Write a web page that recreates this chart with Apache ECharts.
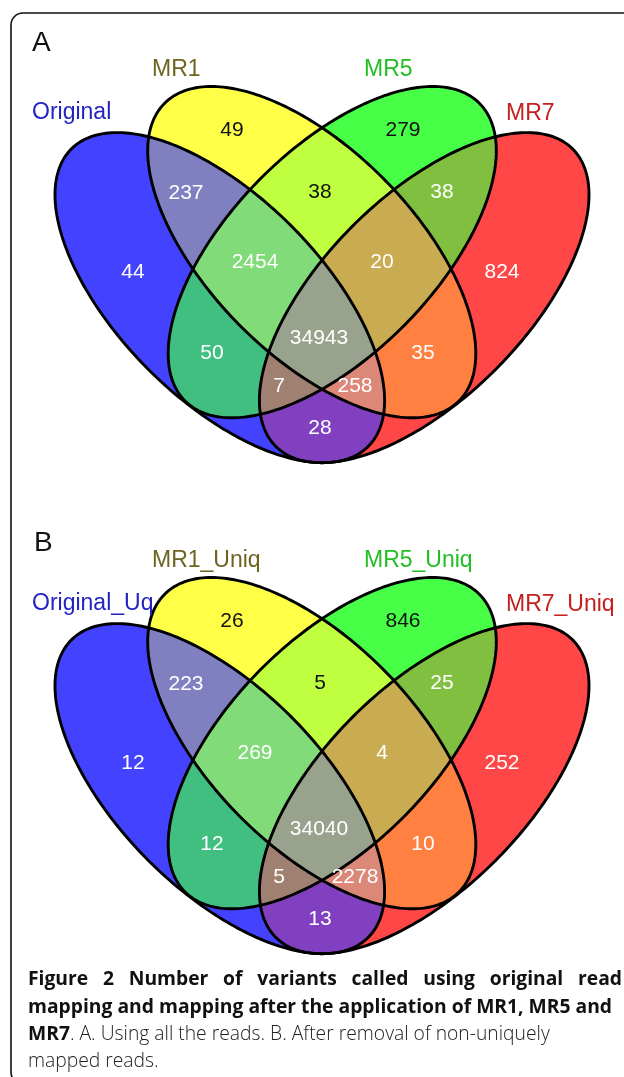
<!DOCTYPE html>
<html><head><meta charset="utf-8">
<script src="https://cdn.jsdelivr.net/npm/echarts@6/dist/echarts.min.js"></script>
<style>html,body{margin:0;padding:0;background:#fff}#c{width:624px;height:1077px}</style>
</head><body><div id="c"></div>
<script>
// ---------- DATA ----------
const setNamesA = ['Original', 'MR1', 'MR5', 'MR7'];
const setNamesB = ['Original_Uq', 'MR1_Uniq', 'MR5_Uniq', 'MR7_Uniq'];
// region keys (O = Original, M1 = MR1, M5 = MR5, M7 = MR7)
const regionKeys = ['O','M1','M5','M7','O_M1','M1_M5','M5_M7','O_M1_M5','M1_M5_M7','O_M5','M1_M7','O_M1_M5_M7','O_M5_M7','O_M1_M7','O_M7'];
const countsA = [44, 49, 279, 824, 237, 38, 38, 2454, 20, 50, 35, 34943, 7, 258, 28];
const countsB = [12, 26, 846, 252, 223, 5, 25, 269, 4, 12, 10, 34040, 5, 2278, 13];

// ---------- LAYOUT (template coordinates of one panel, mapped through the axes) ----------
const MIRROR_X = 644;
const ELL_OUTER = {cx:219.8, cy:297.65, a:210.12, b:101.26, ang:45.07};
const ELL_INNER = {cx:311.75, cy:252.13, a:209.31, b:102.67, ang:45.45};
const REGION_MASK = {O:1,M1:2,M5:4,M7:8,O_M1:3,M1_M5:6,M5_M7:12,O_M1_M5:7,M1_M5_M7:14,O_M5:5,M1_M7:10,O_M1_M5_M7:15,O_M5_M7:13,O_M1_M7:11,O_M7:9};
const REGION_ANCHOR = {O:[133,272],M1:[232,130],M5:[403,130],M7:[502,272],O_M1:[186,193],M1_M5:[320,192],M5_M7:[442,192],O_M1_M5:[255,262],M1_M5_M7:[382,262],O_M5:[212,353],M1_M7:[423,353],O_M1_M5_M7:[319,338],O_M5_M7:[279,386],O_M1_M7:[355,386],O_M7:[320,428]};
const REGION_COLOR = {O:'#4242FF',M1:'#FFFF47',M5:'#47FF47',M7:'#FF4747',O_M1:'#8080C0',M1_M5:'#BFFF40',M5_M7:'#80BF40',O_M1_M5:'#80DB78',M1_M5_M7:'#C9AB52',O_M5:'#40BF80',M1_M7:'#FF8040',O_M1_M5_M7:'#99A28C',O_M5_M7:'#A08070',O_M1_M7:'#DB8878',O_M7:'#8040C0'};
const DARK_TEXT = {M1:1,M5:1,M1_M5:1};
const CAT_ANCHOR = [[32,113],[152,70],[364,70],[506,114]];
const CAT_COLOR = ['#2323C4','#6E6420','#22BE22','#C42020'];
const PANEL_TOP = [0, 491];

const toRad=e=>({cx:e.cx,cy:e.cy,a:e.a,b:e.b,ang:e.ang*Math.PI/180});
const mirrorE=e=>({cx:MIRROR_X-e.cx, cy:e.cy, a:e.a, b:e.b, ang:Math.PI-e.ang});
const eO=toRad(ELL_OUTER), eI=toRad(ELL_INNER);
const ELLIPSES=[eO, eI, mirrorE(eI), mirrorE(eO)]; // Original, MR1, MR5, MR7
function ellipsePts(e,n){const out=[];const c=Math.cos(e.ang),s=Math.sin(e.ang);
  for(let i=0;i<n;i++){const t=2*Math.PI*i/n;const u=e.a*Math.cos(t),v=e.b*Math.sin(t);out.push([e.cx+u*c-v*s,e.cy+u*s+v*c]);}return out;}
const ELL_TPL=ELLIPSES.map(e=>ellipsePts(e,280));

function inter(P,Q,A,B){const x1=P[0],y1=P[1],x2=Q[0],y2=Q[1],x3=A[0],y3=A[1],x4=B[0],y4=B[1];
  const den=(x1-x2)*(y3-y4)-(y1-y2)*(x3-x4);const t=((x1-x3)*(y3-y4)-(y1-y3)*(x3-x4))/den;return [x1+t*(x2-x1),y1+t*(y2-y1)];}
function clip(subject,cp){let area=0;for(let i=0;i<cp.length;i++){const p=cp[i],q=cp[(i+1)%cp.length];area+=p[0]*q[1]-q[0]*p[1];}
  const sg=area>0?1:-1;let out=subject;
  for(let i=0;i<cp.length&&out.length;i++){const A=cp[i],B=cp[(i+1)%cp.length];
    const ins=p=>sg*((B[0]-A[0])*(p[1]-A[1])-(B[1]-A[1])*(p[0]-A[0]))>=0;
    const inp=out;out=[];
    for(let j=0;j<inp.length;j++){const P=inp[j],Q=inp[(j+1)%inp.length];const pi=ins(P),qi=ins(Q);
      if(pi){out.push(P);if(!qi)out.push(inter(P,Q,A,B));}else if(qi){out.push(inter(P,Q,A,B));}}}
  return out;}
const popc=m=>(m&1)+((m>>1)&1)+((m>>2)&1)+((m>>3)&1);
const paintOrder=regionKeys.map((k,i)=>i).sort((a,b)=>popc(REGION_MASK[regionKeys[a]])-popc(REGION_MASK[regionKeys[b]]));
function pixEllipses(api){return ELL_TPL.map(pts=>pts.map(p=>api.coord(p)));}

function panelSeries(p, counts, names){
  return [
    {type:'custom',coordinateSystem:'cartesian2d',xAxisIndex:p,yAxisIndex:p,silent:true,clip:false,
     data:paintOrder.map(i=>[0,0,i]),
     renderItem:(params,api)=>{const k=regionKeys[api.value(2)];const m=REGION_MASK[k];const E=pixEllipses(api);
       let poly=null;for(let b=0;b<4;b++){if(m&(1<<b)){poly=poly?clip(poly,E[b]):E[b].slice();}}
       return {type:'polygon',shape:{points:poly},style:{fill:REGION_COLOR[k],stroke:REGION_COLOR[k],lineWidth:0.6}};}},
    {type:'custom',coordinateSystem:'cartesian2d',xAxisIndex:p,yAxisIndex:p,silent:true,clip:false,
     data:[0,1,2,3].map(i=>[0,0,i]),
     renderItem:(params,api)=>{const E=pixEllipses(api);
       return {type:'polygon',shape:{points:E[api.value(2)]},style:{fill:'none',stroke:'#000',lineWidth:2.9}};}},
    {type:'custom',coordinateSystem:'cartesian2d',xAxisIndex:p,yAxisIndex:p,silent:true,clip:false,
     data:regionKeys.map((k,i)=>[REGION_ANCHOR[k][0],REGION_ANCHOR[k][1],counts[i],i]),
     renderItem:(params,api)=>{const pt=api.coord([api.value(0),api.value(1)]);const k=regionKeys[api.value(3)];
       return {type:'text',x:pt[0],y:pt[1],style:{text:String(api.value(2)),fill:DARK_TEXT[k]?'#111':'#fff',font:'21px "Liberation Sans", Arial, sans-serif',textAlign:'center',textVerticalAlign:'middle'}};}},
    {type:'custom',coordinateSystem:'cartesian2d',xAxisIndex:p,yAxisIndex:p,silent:true,clip:false,
     data:names.map((n,i)=>[CAT_ANCHOR[i][0],CAT_ANCHOR[i][1],i]),
     renderItem:(params,api)=>{const pt=api.coord([api.value(0),api.value(1)]);const i=api.value(2);
       return {type:'text',x:pt[0],y:pt[1],style:{text:names[i],fill:CAT_COLOR[i],font:'23px "Liberation Sans", Arial, sans-serif',textAlign:'left',textVerticalAlign:'middle'}};}}
  ];
}

// caption
const CAP_BOLD='bold 19.3px "Open Sans", sans-serif';
const CAP_REG='300 19.3px "Open Sans", sans-serif';
const cv=document.createElement('canvas').getContext('2d');
function justify(words,x0,x1,y,font){cv.font=font;const w=words.map(t=>cv.measureText(t).width);
  const tot=w.reduce((a,b)=>a+b,0);const gap=(x1-x0-tot)/(words.length-1);let x=x0;
  return words.map((t,i)=>{const el={type:'text',x:x,y:y,style:{text:t,font:font,fill:'#111',textVerticalAlign:'middle'}};x+=w[i]+gap;return el;});}
const line1=['Figure','2','Number','of','variants','called','using','original','read'];

const chart=echarts.init(document.getElementById('c'),null,{renderer:'canvas'});
chart.setOption({
  animation:false,
  grid:PANEL_TOP.map(t=>({left:0,top:t,width:624,height:490})),
  xAxis:PANEL_TOP.map((t,i)=>({type:'value',gridIndex:i,min:0,max:624,show:false})),
  yAxis:PANEL_TOP.map((t,i)=>({type:'value',gridIndex:i,min:0,max:490,inverse:true,show:false})),
  graphic:[
    {type:'rect',shape:{x:11,y:13,width:640,height:1071,r:12},style:{fill:'none',stroke:'#111',lineWidth:1.6}},
    {type:'text',x:32,y:43,style:{text:'A',font:'28px "Liberation Sans", Arial, sans-serif',fill:'#111',textVerticalAlign:'middle'}},
    {type:'text',x:34,y:543,style:{text:'B',font:'28px "Liberation Sans", Arial, sans-serif',fill:'#111',textVerticalAlign:'middle'}},
    ...justify(line1,28,622,980,CAP_BOLD),
    {type:'text',x:28,y:1008,style:{text:'mapping and mapping after the application of MR1, MR5 and',font:CAP_BOLD,fill:'#111',textVerticalAlign:'middle'}},
    {type:'text',x:28,y:1035,style:{text:'{b|MR7}{n|. A. Using all the reads. B. After removal of non-uniquely}',textVerticalAlign:'middle',rich:{b:{font:CAP_BOLD,fill:'#111'},n:{font:CAP_REG,fill:'#222'}}}},
    {type:'text',x:28,y:1062,style:{text:'mapped reads.',font:CAP_REG,fill:'#222',textVerticalAlign:'middle'}}
  ],
  series:[...panelSeries(0,countsA,setNamesA),...panelSeries(1,countsB,setNamesB)]
});
</script></body></html>
